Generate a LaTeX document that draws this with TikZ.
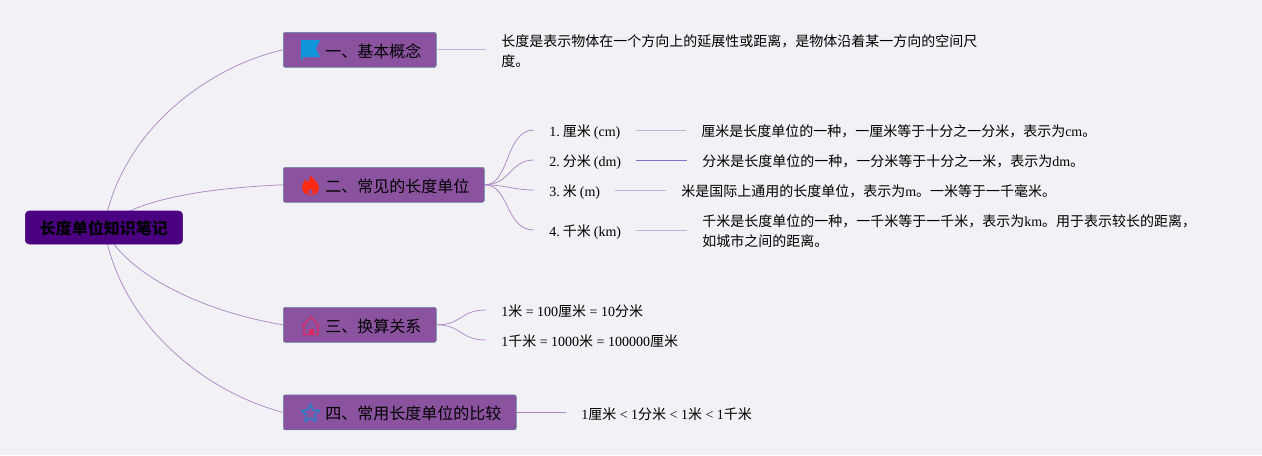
\documentclass[tikz,border=0pt]{standalone}
\usepackage{fontspec}
\setmainfont{Liberation Serif}
\newfontfamily\cjk{Noto Sans CJK SC}
\newcommand{\zh}[1]{{\cjk #1}}
\usetikzlibrary{backgrounds}
\definecolor{paper}{HTML}{F2F1F5}
\definecolor{rootfill}{HTML}{4B0082}
\definecolor{topicfill}{HTML}{8A529F}
\definecolor{topicedge}{HTML}{5F8A9C}
\definecolor{branch}{HTML}{AD88C6}
\definecolor{stub}{HTML}{C8B0DC}
\definecolor{flagblue}{HTML}{1296DB}
\definecolor{flamered}{HTML}{FF2A14}
\definecolor{housered}{HTML}{D9295F}
\definecolor{starblue}{HTML}{2F7CC8}
\tikzset{
         rootbox/.style={draw=rootfill,fill=rootfill,rounded corners=3pt,anchor=west,minimum width=118pt,minimum height=24.75pt,inner sep=0pt,text height=11.9pt,text depth=2pt,font=\fontsize{12}{15}\selectfont\bfseries},
         topicbox/.style={draw=topicedge,fill=topicfill,rounded corners=1.5pt,anchor=west,minimum height=26.25pt,inner xsep=11.25pt,inner ysep=0pt,text height=13.4pt,text depth=2pt,font=\fontsize{12}{15}\selectfont},
         noteblock/.style={anchor=west,inner xsep=11.25pt,inner ysep=0pt,align=left,font=\fontsize{10.5}{15}\selectfont},
         leaf/.style={noteblock,text height=12.3pt,text depth=2pt},
         branchline/.style={draw=branch,line width=0.55pt},
         stubline/.style={draw=stub,line width=0.75pt}
        }
\begin{document}
\begin{tikzpicture}[x=0.75pt,y=-0.75pt]
      \useasboundingbox (0,0) rectangle (1262,455);
      \begin{pgfonlayer}{background}
      \fill[paper] (0,0) rectangle (1262,455); % page
      \end{pgfonlayer}
      \node[rootbox] (root) at (25,227.5) {\zh{长度单位知识笔记}}; % root
      \node[topicbox] (basic) at (283,49.8) {\hspace*{20.25pt}\zh{一、基本概念}}; % topics
      \node[topicbox] (units) at (283,184.8) {\hspace*{20.25pt}\zh{二、常见的长度单位}};
      \node[topicbox] (convert) at (283,324.8) {\hspace*{20.25pt}\zh{三、换算关系}};
      \node[topicbox] (compare) at (283,412.3) {\hspace*{20.25pt}\zh{四、常用长度单位的比较}};
      \node[noteblock] (basicnote) at (486,51) {\zh{长度是表示物体在一个方向上的延展性或距离，是物体沿着某一方向的空间尺}\\\zh{度。}};
      \node[leaf] (cm) at (534,130) {1.\kern2.3pt\zh{厘米}\kern2.3pt(cm)}; % unit names
      \node[leaf] (dm) at (534,160) {2.\kern2.3pt\zh{分米}\kern2.3pt(dm)};
      \node[leaf] (m) at (534,190) {3.\kern2.3pt\zh{米}\kern2.3pt(m)};
      \node[leaf] (km) at (534,230) {4.\kern2.3pt\zh{千米}\kern2.3pt(km)};
      \node[leaf] (cmnote) at (686,130) {\zh{厘米是长度单位的一种，一厘米等于十分之一分米，表示为}cm\zh{。}}; % unit notes
      \node[leaf] (dmnote) at (687,160) {\zh{分米是长度单位的一种，一分米等于十分之一米，表示为}dm\zh{。}};
      \node[leaf] (mnote) at (666,190) {\zh{米是国际上通用的长度单位，表示为}m\zh{。一米等于一千毫米。}};
      \node[noteblock] (kmnote) at (687,231) {\zh{千米是长度单位的一种，一千米等于一千米，表示为}km\zh{。用于表示较长的距离，}\\\zh{如城市之间的距离。}};
      \node[leaf] (metre) at (486,310) {1\zh{米} = 100\zh{厘米} = 10\zh{分米}};
      \node[leaf] (kilo) at (486,340) {1\zh{千米} = 1000\zh{米} = 100000\zh{厘米}};
      \node[leaf] (order) at (566,412.3) {1\zh{厘米} < 1\zh{分米} < 1\zh{米} < 1\zh{千米}};
      \begin{pgfonlayer}{background}
      \draw[branchline] (root.center) .. controls (122,125) and (215,65) .. (basic.west); % root to topics
      \draw[branchline] (root.center) .. controls (135,198) and (210,188) .. (units.west);
      \draw[branchline] (root.center) .. controls (125,275) and (205,312) .. (convert.west);
      \draw[branchline] (root.center) .. controls (120,325) and (205,392) .. (compare.west);
      \end{pgfonlayer}
      \draw[stubline] (basic.east) -- (basic.east -| basicnote.west); % stubs
      \draw[branchline] (units.east) .. controls (510,185) and (505,130) .. (cm.west); % unit branches
      \draw[branchline] (units.east) .. controls (510,185) and (510,160) .. (dm.west);
      \draw[branchline] (units.east) .. controls (505,185) and (515,190) .. (m.west);
      \draw[branchline] (units.east) .. controls (510,185) and (505,230) .. (km.west);
      \draw[stubline] (cm.east) -- (cmnote.west);
      \draw[stubline,draw=branch!80!blue] (dm.east) -- (dmnote.west);
      \draw[stubline] (m.east) -- (mnote.west);
      \draw[stubline] (km.east) -- (km.east -| kmnote.west);
      \draw[branchline] (convert.east) .. controls (462,325) and (460,310) .. (metre.west); % convert branches
      \draw[branchline] (convert.east) .. controls (462,325) and (460,340) .. (kilo.west);
      \draw[branchline] (compare.east) -- (order.west);
      \fill[flagblue] (301,40) -- (320,40) -- (316,48.5) -- (320,57) -- (302.5,57) -- (302.5,60) -- (301,60) -- cycle; % flag
      \fill[flamered] (311,175) .. controls (313,180) and (319,182) .. (319,188) .. controls (319,192.5) and (315,195) .. (311,195) .. controls (306,195) and (302,192.5) .. (302,188) .. controls (302,184) and (304,182) .. (305,179) .. controls (306,181) and (307,182) .. (308,182) .. controls (309,180) and (310,177) .. (311,175) -- cycle; % flame
      \fill[topicfill] (310.5,189) .. controls (312,190.5) and (313,191.5) .. (313,192.5) .. controls (313,194.5) and (308,194.5) .. (308,192.5) .. controls (308,191.5) and (309,190.5) .. (310.5,189) -- cycle;
      \draw[housered,line width=0.9pt,line join=round] (302,326) -- (311,317) -- (319,326) (304,324) -- (304,334.5) -- (318,334.5) -- (318,324); % house
      \fill[housered] (308.5,334) rectangle (313.5,329);
      \draw[starblue,line width=1.2pt,line join=round] (310.5,404) -- (313,410) -- (319.5,410.5) -- (314.5,415) -- (316,421.5) -- (310.5,418) -- (305,421.5) -- (306.5,415) -- (301.5,410.5) -- (308,410) -- cycle; % star
\end{tikzpicture}
\end{document}
